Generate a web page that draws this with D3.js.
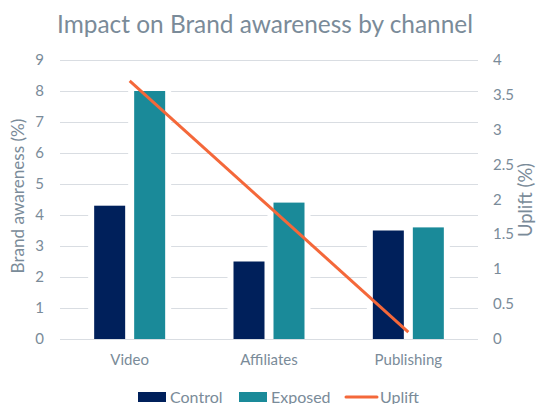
<html>
<head>
    <meta charset="utf-8">
    <script src="https://cdn.jsdelivr.net/npm/d3@7"></script>
    <style>
        body { margin: 0; background: #fff; }
        text { font-family: Lato, "Open Sans", sans-serif; fill: #7a8b99; }
    </style>
</head>
<body>
    <script>
        var categories = ["Video", "Affiliates", "Publishing"];
        var control = [4.3, 2.5, 3.5];
        var exposed = [8, 4.4, 3.6];
        var uplift = [3.7, 1.9, 0.1];
        var leftTicks = [0, 1, 2, 3, 4, 5, 6, 7, 8, 9];
        var rightTicks = [0, 0.5, 1, 1.5, 2, 2.5, 3, 3.5, 4];
        var series = ["Control", "Exposed"];

        var colors = { Control: "#00205b", Exposed: "#1a8a99", Uplift: "#f4683a" };
        var width = 542, height = 404;
        var plotLeft = 60, plotRight = 478, plotTop = 60, plotBottom = 339;

        var svg = d3.select("body").append("svg")
            .attr("width", width)
            .attr("height", height);

        // fit text to a measured width by scaling the font size
        function fit(t, w) {
            var fs = parseFloat(t.attr("font-size"));
            var len = t.node().getComputedTextLength();
            t.attr("font-size", (fs * w / len).toFixed(2));
        }

        var x0 = d3.scaleBand().domain(categories).range([plotLeft, plotRight]);
        var x1 = d3.scaleBand().domain(series).range([-35.5, 35.5]).paddingInner(0.225);
        var yL = d3.scaleLinear().domain([0, 9]).range([plotBottom, plotTop]);
        var yR = d3.scaleLinear().domain([0, 4]).range([plotBottom, plotTop]);

        // title
        var title = svg.append("text")
            .attr("x", 265).attr("y", 33)
            .attr("text-anchor", "middle")
            .attr("font-size", 25)
            .text("Impact on Brand awareness by channel");
        fit(title, 416);

        // gridlines
        svg.append("g").selectAll("line")
            .data(leftTicks)
            .enter().append("line")
            .attr("x1", plotLeft).attr("x2", plotRight)
            .attr("y1", d => yL(d) + 0.5).attr("y2", d => yL(d) + 0.5)
            .attr("stroke", "#d9dde2")
            .attr("stroke-width", 1);

        // axis labels
        svg.append("g").selectAll("text")
            .data(leftTicks)
            .enter().append("text")
            .attr("x", 44).attr("y", d => yL(d) + 5)
            .attr("text-anchor", "end")
            .attr("font-size", 15)
            .text(d => d);

        svg.append("g").selectAll("text")
            .data(rightTicks)
            .enter().append("text")
            .attr("x", 493).attr("y", d => yR(d) + 5)
            .attr("text-anchor", "start")
            .attr("font-size", 15)
            .text(d => d);

        var lt = svg.append("text")
            .attr("transform", "translate(24,196) rotate(-90)")
            .attr("text-anchor", "middle")
            .attr("font-size", 16)
            .text("Brand awareness (%)");
        fit(lt, 155);

        var rt = svg.append("text")
            .attr("transform", "translate(532,200) rotate(-90)")
            .attr("text-anchor", "middle")
            .attr("font-size", 16)
            .text("Uplift (%)");
        fit(rt, 74);

        svg.append("g").selectAll("text")
            .data(categories)
            .enter().append("text")
            .attr("x", d => x0(d) + x0.bandwidth() / 2)
            .attr("y", 365)
            .attr("text-anchor", "middle")
            .attr("font-size", 15)
            .text(d => d);

        // bars
        var barData = [];
        categories.forEach(function (c, i) {
            barData.push({ cat: c, s: "Control", v: control[i] });
            barData.push({ cat: c, s: "Exposed", v: exposed[i] });
        });
        var bx = d => x0(d.cat) + x0.bandwidth() / 2 + x1(d.s);

        svg.append("g").selectAll("rect")
            .data(barData)
            .enter().append("rect")
            .attr("x", d => bx(d) - 6)
            .attr("width", x1.bandwidth() + 12)
            .attr("y", d => yL(d.v))
            .attr("height", d => plotBottom - yL(d.v))
            .attr("fill", "#fff");

        svg.append("g").selectAll("rect")
            .data(barData)
            .enter().append("rect")
            .attr("x", bx)
            .attr("width", x1.bandwidth())
            .attr("y", d => yL(d.v))
            .attr("height", d => plotBottom - yL(d.v))
            .attr("fill", d => colors[d.s]);

        // uplift line
        var line = d3.line()
            .x((d, i) => x0(categories[i]) + x0.bandwidth() / 2)
            .y(d => yR(d));
        svg.append("path")
            .datum(uplift)
            .attr("fill", "none")
            .attr("stroke", colors.Uplift)
            .attr("stroke-width", 3)
            .attr("d", line);

        // legend
        var lg = svg.append("g");
        lg.append("rect").attr("x", 138).attr("y", 392).attr("width", 28).attr("height", 10).attr("fill", colors.Control);
        lg.append("text").attr("x", 170).attr("y", 403).attr("font-size", 16).text("Control");
        lg.append("rect").attr("x", 239).attr("y", 392).attr("width", 28).attr("height", 10).attr("fill", colors.Exposed);
        lg.append("text").attr("x", 271).attr("y", 403).attr("font-size", 16).text("Exposed");
        lg.append("line").attr("x1", 346).attr("x2", 377).attr("y1", 397).attr("y2", 397)
            .attr("stroke", colors.Uplift).attr("stroke-width", 3).attr("stroke-linecap", "round");
        lg.append("text").attr("x", 380).attr("y", 403).attr("font-size", 16).text("Uplift");
    </script>
</body>
</html>
